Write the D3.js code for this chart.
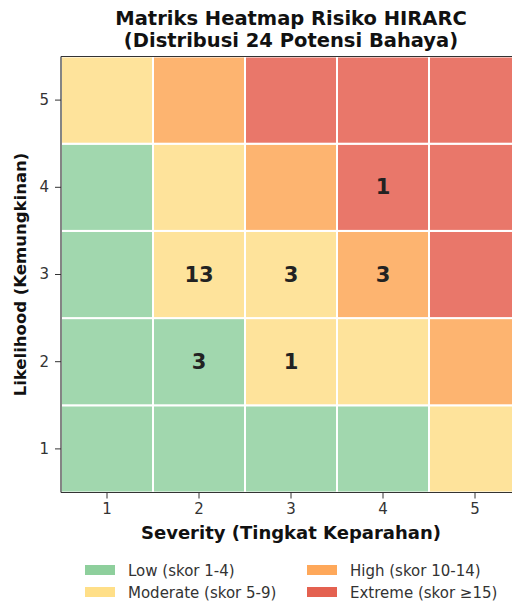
<!DOCTYPE html>
<html><head><meta charset="utf-8">
<script src="https://cdn.jsdelivr.net/npm/d3@7"></script>
<style>body{margin:0;background:#fff;} svg{display:block;}</style>
</head><body>
<svg id="c" width="512" height="604"></svg>
<script>
const severity = [1, 2, 3, 4, 5];
const likelihood = [1, 2, 3, 4, 5];
const counts = [ // [severity, likelihood, count]
  [4, 4, 1], [2, 3, 13], [3, 3, 3], [4, 3, 3], [2, 2, 3], [3, 2, 1]
];
const levels = ["Low (skor 1-4)", "Moderate (skor 5-9)", "High (skor 10-14)", "Extreme (skor ≥15)"];
const cellColors = ["#a1d7ae", "#fee39b", "#fdb470", "#e9776a"];
const legendColors = ["#8ecf9c", "#ffdf88", "#fea85a", "#e46150"];
const title = ["Matriks Heatmap Risiko HIRARC", "(Distribusi 24 Potensi Bahaya)"];

function level(s) { return s <= 4 ? 0 : s <= 9 ? 1 : s <= 14 ? 2 : 3; }

const svg = d3.select("#c");
const pLeft = 61, pRight = 521, pTop = 56.5, pBottom = 492.5;
const x = d3.scaleBand().domain(severity).range([pLeft, pRight]);
const y = d3.scaleBand().domain(likelihood.slice().reverse()).range([pTop, pBottom]);
const font = "DejaVu Sans, sans-serif";

const cells = [];
severity.forEach(s => likelihood.forEach(l => cells.push({s, l})));
svg.append("g").selectAll("rect").data(cells).join("rect")
  .attr("x", d => x(d.s)).attr("y", d => y(d.l))
  .attr("width", x.bandwidth()).attr("height", y.bandwidth())
  .attr("fill", d => cellColors[level(d.s * d.l)])
  .attr("stroke", "#fff").attr("stroke-width", 2);

svg.append("g").selectAll("text").data(counts).join("text")
  .attr("x", d => x(d[0]) + x.bandwidth() / 2)
  .attr("y", d => y(d[1]) + y.bandwidth() / 2)
  .attr("text-anchor", "middle").attr("dominant-baseline", "central")
  .style("font-family", font).style("font-weight", "bold").style("font-size", "21px")
  .attr("fill", "#222").text(d => d[2]);

// frame
const frame = svg.append("g").attr("stroke", "#333").attr("stroke-width", 1.2).attr("fill", "none");
frame.append("line").attr("x1", pLeft).attr("x2", pLeft).attr("y1", pTop).attr("y2", pBottom);
frame.append("line").attr("x1", pLeft).attr("x2", pRight).attr("y1", pTop).attr("y2", pTop);
frame.append("line").attr("x1", pLeft).attr("x2", pRight).attr("y1", pBottom).attr("y2", pBottom);

const xAxis = svg.append("g").attr("transform", `translate(0,${pBottom})`)
  .call(d3.axisBottom(x).tickSize(6).tickPadding(5));
const yAxis = svg.append("g").attr("transform", `translate(${pLeft},0)`)
  .call(d3.axisLeft(y).tickSize(6).tickPadding(6));
[xAxis, yAxis].forEach(a => {
  a.select(".domain").remove();
  a.attr("font-size", null).attr("font-family", null);
  a.selectAll("line").attr("stroke", "#333");
  a.selectAll("text").style("font-family", font).style("font-size", "15px").attr("fill", "#333");
});

svg.append("text").attr("x", (pLeft + pRight) / 2).attr("y", 539)
  .attr("text-anchor", "middle").style("font-family", font).style("font-weight", "bold")
  .style("font-size", "18px").attr("fill", "#111").text("Severity (Tingkat Keparahan)");
svg.append("text").attr("transform", `translate(26,${(pTop + pBottom) / 2}) rotate(-90)`)
  .attr("text-anchor", "middle").style("font-family", font).style("font-weight", "bold")
  .style("font-size", "16.5px").attr("fill", "#111").text("Likelihood (Kemungkinan)");

svg.append("g").selectAll("text").data(title).join("text")
  .attr("x", (pLeft + pRight) / 2).attr("y", (d, i) => 25 + i * 22)
  .attr("text-anchor", "middle").style("font-family", font).style("font-weight", "bold")
  .style("font-size", "19.5px").attr("fill", "#111").text(d => d);

const lg = svg.append("g");
levels.forEach((t, i) => {
  const col = i < 2 ? 0 : 1, row = i % 2;
  const px = col ? 307 : 85, py = 565 + row * 22;
  lg.append("rect").attr("x", px).attr("y", py).attr("width", 30).attr("height", 10)
    .attr("fill", legendColors[i]);
  lg.append("text").attr("x", px + 43).attr("y", py + 5.5).attr("dominant-baseline", "central")
    .style("font-family", font).style("font-size", "15px").attr("fill", "#333").text(t);
});
</script>
</body></html>
